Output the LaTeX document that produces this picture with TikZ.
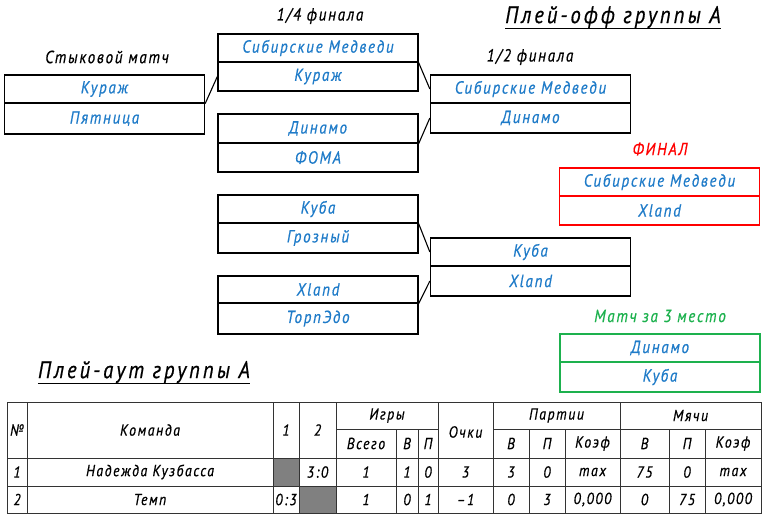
\documentclass[tikz,border=0pt]{standalone}
\usepackage{fontspec}
\setmainfont{PT Sans}
\newfontfamily\gost[LetterSpace=10,FakeStretch=0.86,FakeBold=0.6]{PT Sans}
\newfontfamily\gostt[LetterSpace=12.5,FakeStretch=0.86,FakeBold=0.6]{PT Sans}
\usetikzlibrary{calc}
\definecolor{tblue}{HTML}{1F7BC8}
\definecolor{tgreen}{HTML}{1DB14E}
\definecolor{tred}{HTML}{FF0000}
\definecolor{tgray}{HTML}{808080}
\begin{document}
\begin{tikzpicture}[x=1pt,y=-1pt,
  every node/.style={font=\gost\itshape\fontsize{17.5}{20}\selectfont},
  team/.style={draw=black,line width=1.3pt,minimum width=200pt,minimum height=#1,inner sep=0pt,text=tblue},
  team/.default=28pt,
  lbl/.style={text=black},
  title/.style={font=\gostt\itshape\fontsize{24}{26}\selectfont,inner sep=0pt},
  link/.style={line width=1.1pt},
  cell/.style={font=\gost\itshape\fontsize{16}{18}\selectfont,inner sep=0pt},
  grid/.style={line width=0.9pt,draw=black!80}]
\useasboundingbox (0,0) rectangle (768,521);
% ---- titles
\node[title] (t1) at (613,17) {Плей-офф группы А};
\draw[line width=1.1pt] ([yshift=-5pt]t1.base west) -- ([yshift=-5pt]t1.base east);
\node[title] (t2) at (144,372) {Плей-аут группы А};
\draw[line width=1.1pt] ([yshift=-5pt]t2.base west) -- ([yshift=-5pt]t2.base east);
% ---- stage labels
\node[lbl] (l0) at (107,57) {Стыковой матч};
\node[lbl] (l1) at (320,16) {1/4 финала};
\node[lbl] (l2) at (530,57) {1/2 финала};
\node[text=tred] (l3) at (660,149) {ФИНАЛ};
\node[text=tgreen] (l4) at (660,316) {Матч за 3 место};
% ---- play-in
\node[team] (s1) at (104.5,89) {Кураж};
\node[team=31pt] (s2) at (104.5,118.5) {Пятница};
% ---- quarter finals
\node[team] (q1a) at (318,48) {Сибирские Медведи};
\node[team=29pt] (q1b) at (318,76.5) {Кураж};
\node[team=29pt] (q2a) at (318,128.5) {Динамо};
\node[team=29pt] (q2b) at (318,157.5) {ФОМА};
\node[team] (q3a) at (318,209) {Куба};
\node[team=30pt] (q3b) at (318,238) {Грозный};
\node[team=27pt] (q4a) at (318,289.5) {Xland};
\node[team=31pt] (q4b) at (318,318.5) {ТорпЭдо};
% ---- semi finals
\node[team] (h1a) at (530.5,89) {Сибирские Медведи};
\node[team=30pt] (h1b) at (530.5,118) {Динамо};
\node[team] (h2a) at (530.5,252) {Куба};
\node[team=30pt] (h2b) at (530.5,281) {Xland};
% ---- final
\node[team,draw=tred] (fa) at (659.5,182) {Сибирские Медведи};
\node[team=29pt,draw=tred] (fb) at (659.5,210.5) {Xland};
% ---- third place
\node[team,draw=tgreen] (ta) at (660,348) {Динамо};
\node[team=30pt,draw=tgreen] (tb) at (660,377) {Куба};
% ---- connectors
\draw[link] (s1.south east) -- (q1b.west);
\draw[link] (q1a.south east) -- (h1a.west);
\draw[link] (q2a.south east) -- (h1b.west);
\draw[link] (q3a.south east) -- (h2a.west);
\draw[link] (q4a.south east) -- (h2b.west);
% ---- table
\fill[tgray] (273,458) rectangle (299,486);
\fill[tgray] (299,486) rectangle (336,513);
\draw[grid] (7,402) rectangle (761,513);
\draw[grid] (7,458) -- (761,458);
\draw[grid] (7,486) -- (761,486);
\draw[grid] (336,429) -- (438,429);
\draw[grid] (493,429) -- (761,429);
\foreach \x in {27,273,299,336,438,493,620}{\draw[grid] (\x,402) -- (\x,513);}
\foreach \x in {396,418,529,565,669,705}{\draw[grid] (\x,429) -- (\x,513);}
% header
\node[cell] (hn) at (17,430) {№};
\node[cell] (hk) at (150,430) {Команда};
\node[cell] (h1) at (286,430) {1};
\node[cell] (h2) at (317.5,430) {2};
\node[cell] (hg) at (387,415.5) {Игры};
\node[cell] (hgv) at (366,443.5) {Всего};
\node[cell] (hgw) at (407,443.5) {В};
\node[cell] (hgl) at (428,443.5) {П};
\node[cell] (ho) at (465.5,432) {Очки};
\node[cell] (hp) at (556.5,415.5) {Партии};
\node[cell] (hpw) at (511,443.5) {В};
\node[cell] (hpl) at (547,443.5) {П};
\node[cell] (hpk) at (592.5,443.5) {Коэф};
\node[cell] (hm) at (690.5,415.5) {Мячи};
\node[cell] (hmw) at (644.5,443.5) {В};
\node[cell] (hml) at (687,443.5) {П};
\node[cell] (hmk) at (733,443.5) {Коэф};
% row 1
\node[cell] (r1n) at (17,472) {1};
\node[cell] (r1k) at (150,472) {Надежда Кузбасса};
\node[cell] (r1c2) at (317.5,472) {3:0};
\node[cell] (r1g) at (366,472) {1};
\node[cell] (r1w) at (407,472) {1};
\node[cell] (r1l) at (428,472) {0};
\node[cell] (r1o) at (465.5,472) {3};
\node[cell] (r1pw) at (511,472) {3};
\node[cell] (r1pl) at (547,472) {0};
\node[cell] (r1pk) at (592.5,472) {max};
\node[cell] (r1mw) at (644.5,472) {75};
\node[cell] (r1ml) at (687,472) {0};
\node[cell] (r1mk) at (733,472) {max};
% row 2
\node[cell] (r2n) at (17,499.5) {2};
\node[cell] (r2k) at (150,499.5) {Темп};
\node[cell] (r2c1) at (286,499.5) {0:3};
\node[cell] (r2g) at (366,499.5) {1};
\node[cell] (r2w) at (407,499.5) {0};
\node[cell] (r2l) at (428,499.5) {1};
\node[cell] (r2o) at (465.5,499.5) {–1};
\node[cell] (r2pw) at (511,499.5) {0};
\node[cell] (r2pl) at (547,499.5) {3};
\node[cell] (r2pk) at (592.5,499.5) {0,000};
\node[cell] (r2mw) at (644.5,499.5) {0};
\node[cell] (r2ml) at (687,499.5) {75};
\node[cell] (r2mk) at (733,499.5) {0,000};
\end{tikzpicture}
\end{document}
